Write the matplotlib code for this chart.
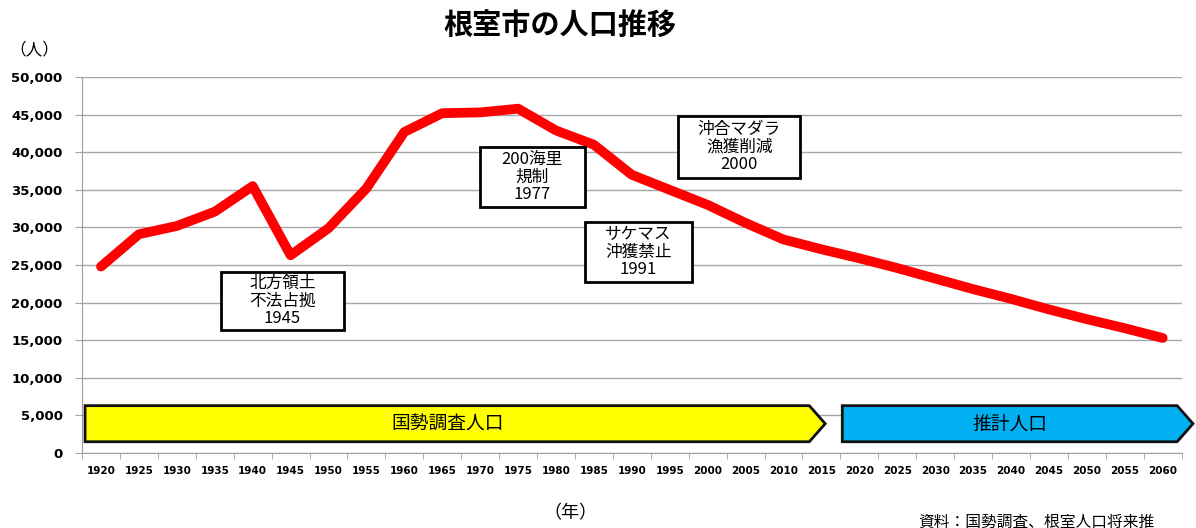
import matplotlib
matplotlib.use('Agg')
import matplotlib.pyplot as plt
from matplotlib.patches import Polygon, Rectangle
import numpy as np

plt.rcParams['font.family'] = ['Noto Sans CJK JP', 'DejaVu Sans']

# Population of Nemuro city (census up to 2015, projection afterwards)
years = list(range(1920, 2065, 5))
population = [24800, 29100, 30200, 32100, 35500, 26300, 29900, 35200, 42700, 45200,
              45300, 45800, 42900, 41000, 37000, 35000, 33000, 30600, 28400, 27100,
              25900, 24600, 23200, 21800, 20500, 19100, 17800, 16600, 15300]

# event notes: text, and where they sit (category index, value)
note_texts = ['北方領土\n不法占拠\n1945', '200海里\n規制\n1977',
              'サケマス\n沖獲禁止\n1991', '沖合マダラ\n漁獲削減\n2000']
note_x = [4.78, 11.37, 14.17, 16.83]
note_y = [20200, 36700, 26700, 40700]

# band arrows
band_labels = ['国勢調査人口', '推計人口']
band_start = [-0.42, 19.55]
band_end = [19.1, 28.8]
band_colors = ['#ffff00', '#00b0f0']

fig = plt.figure(figsize=(11.96, 5.28), dpi=100)
ax = fig.add_axes([0.0686, 0.142, 0.9194, 0.712])

x = np.arange(len(years))
ax.plot(x, population, color='#ff0000', lw=7, solid_capstyle='round', solid_joinstyle='round', zorder=3)

ax.set_xlim(-0.5, len(years) - 0.5)
ax.set_ylim(0, 50000)
ax.set_yticks(np.arange(0, 50001, 5000))
ax.set_yticklabels(['{:,}'.format(v) for v in range(0, 50001, 5000)],
                   fontsize=9.5, fontweight='bold', family='DejaVu Sans')
ax.set_xticks(x)
ax.set_xticklabels([str(y) for y in years], fontsize=7.5, fontweight='bold', family='DejaVu Sans')
ax.set_xticks(np.arange(-0.5, len(years), 1), minor=True)
ax.tick_params(axis='x', which='major', length=0, pad=9)
ax.tick_params(axis='x', which='minor', length=4, color='#a0a0a0', direction='out')
ax.tick_params(axis='y', length=5, color='#a0a0a0', pad=9)
ax.grid(axis='y', color='#a6a6a6', lw=1)
ax.set_axisbelow(True)
for s in ['top', 'right']:
    ax.spines[s].set_visible(False)
for s in ['left', 'bottom']:
    ax.spines[s].set_color('#a0a0a0')

# band arrows
y0, y1 = 1500, 6300
tip = 0.42
for label, xs, xe, col in zip(band_labels, band_start, band_end, band_colors):
    pts = [(xs, y0), (xe - tip, y0), (xe, (y0 + y1) / 2), (xe - tip, y1), (xs, y1)]
    ax.add_patch(Polygon(pts, closed=True, facecolor=col, edgecolor='#111111', lw=2,
                         zorder=4, clip_on=False))
    ax.text((xs + xe - tip) / 2, (y0 + y1) / 2, label, ha='center', va='center', fontsize=13.5, zorder=5)

# note boxes (width in categories, height in people)
box_w = [3.25, 2.77, 2.82, 3.22]
box_h = [7800, 8000, 8000, 8250]
for txt, xi, yv, w, h in zip(note_texts, note_x, note_y, box_w, box_h):
    ax.add_patch(Rectangle((xi - w / 2, yv - h / 2), w, h, facecolor='white', edgecolor='black',
                           lw=2, zorder=6))
    ax.text(xi, yv, txt, ha='center', va='center', fontsize=12, linespacing=1.02, zorder=7)

fig.text(0.468, 0.953, '根室市の人口推移', ha='center', va='center', fontsize=21, fontweight='bold')
fig.text(0.008, 0.905, '（人）', ha='left', va='center', fontsize=12)
fig.text(0.477, 0.028, '（年）', ha='center', va='center', fontsize=13)
fig.text(0.768, 0.012, '資料：国勢調査、根室人口将来推', ha='left', va='center', fontsize=11.3)

fig.savefig('out.png', dpi=100)
